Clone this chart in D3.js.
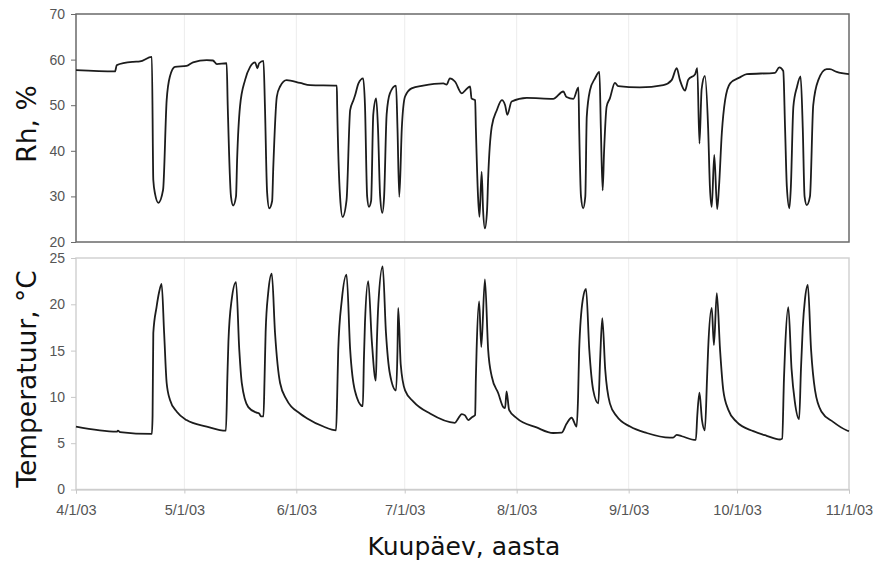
<!DOCTYPE html>
<html><head><meta charset="utf-8">
<script src="https://cdn.jsdelivr.net/npm/d3@7"></script>
<style>body{margin:0;background:#fff}svg{display:block}</style>
</head><body>
<svg id="c" width="874" height="564"></svg>
<script>
// ---- data (day offset from 2003-04-01, value) ----
const rhSeries = [
[0,57.7],[10.8,57.4],[11.3,58.8],[15.8,59.5],[17.7,59.6],[21.0,60.6],[21.4,33.6],[21.9,30.5],[22.8,28.6],[24.1,31.4],[25.1,51.1],[26.0,56.3],[27.4,58.4],[30.6,58.6],[32.4,59.4],[36.2,59.9],[37.9,59.8],[39.0,59.0],[41.7,59.2],
[42.0,50],[42.9,30],[43.5,28.0],[44.3,30],[44.6,38],[45.4,49.7],[46.8,55.5],[48.2,58.4],[49.6,59.4],[50.2,58.1],[50.7,59.2],[51.9,59.7],
[52.3,50],[52.9,31],[53.5,27.4],[54.3,29],[54.6,36],[55.6,51.9],[56.5,54.1],[58.3,55.5],[62.0,54.9],[64.8,54.4],[72.2,54.3],
[72.3,50],[73.1,30],[73.8,25.5],[74.9,29.2],[75.9,48.9],[76.8,51.1],[77.2,52],[78.2,54.8],[79.5,55.9],
[80.0,50],[80.6,30],[81.1,27.7],[81.7,29],[82.3,48],[83.1,51.5],[83.6,45],[84.2,30],[84.8,26.4],[85.3,30],[86.0,48],[86.9,52.6],[88.6,54.3],[89.0,45],[89.5,29.9],[90.2,45],[91.1,51.9],[92.9,53.7],[96.1,54.3],[101.7,54.8],[102.6,54.5],[103.5,55.9],[104.9,55.2],[106.8,52.6],[107.7,53.2],[109.1,54.1],[109.5,51.5],[110.5,51.1],
[110.7,45],[111.3,30],[111.7,25.5],[112.3,35.4],[112.7,27],[113.2,23.0],[113.8,27],[114.1,34],[115.1,45.3],[116.5,48.9],[117.9,51.1],[118.8,50.0],[119.4,47.9],[120.6,50.8],[124.8,51.6],[132.1,51.4],[134.9,53.0],[135.8,51.8],[137.7,51.4],[139.1,53.9],
[139.3,45],[139.8,30],[140.4,27.4],[141.0,30],[141.4,47.5],[142.3,53.3],[143.7,55.9],[144.9,57.3],
[145.3,45],[145.8,31.3],[146.2,40],[146.9,49.7],[147.8,51.5],[149.2,54.9],[150.1,54.2],[156.1,53.9],[162.6,54.4],[164.9,55.5],[166.3,58.1],[167.2,55.5],[168.6,53.2],[169.5,55.6],[171.4,56.8],[172.0,58.1],
[172.6,41.6],[173.2,53.5],[174.1,56.4],[175.0,45],[175.5,32],[176.0,27.7],[176.7,39.1],[177.5,27.2],[178.0,32],[178.8,44],[179.7,51.1],[181.1,54.8],[183.8,56.1],[185.7,56.8],[193.5,57.1],[194.7,58.3],[195.8,57.5],
[196.3,45],[196.8,32],[197.5,27.4],[197.9,32],[198.6,49.7],[199.6,54],[200.6,56.3],[201.2,45],[201.7,30],[202.3,28.1],[203.2,30.0],[204.1,50],[205.5,55.5],[207.8,57.9],[208.7,57.9],[210.6,57.3],[214.0,56.8]
];
const tempSeries = [
[0,6.78],[11.3,6.24],[11.6,6.35],[12.2,6.2],[21.0,6.0],[21.2,8],[21.4,16.9],[22.3,19.7],[23.0,21.3],[23.7,22.2],[24.4,16.9],[25.1,11.5],[26.0,9.7],[27.9,8.4],[30.6,7.5],[36.2,6.8],[41.5,6.35],
[41.9,12],[42.2,16],[43.1,20.5],[44.3,22.4],[45.2,15.1],[45.9,11.5],[47.7,8.9],[50.0,8.3],[50.7,8.2],[51.2,7.9],[51.9,7.9],
[52.2,12],[52.5,17],[53.2,21.2],[54.2,23.3],[55.1,16.9],[56.5,11.5],[58.3,9.7],[62.0,8.2],[63.9,7.7],[68.5,6.8],[72.0,6.4],
[72.3,10],[72.6,15.1],[73.6,20.5],[74.9,23.2],[75.9,15.1],[77.2,10.7],[79.4,9.0],
[79.7,14],[80.0,18],[80.9,22.5],[81.9,16],[83.0,11.75],
[83.3,16],[83.7,20],[84.9,24.1],[85.8,17],[86.9,12.5],[88.6,10.7],
[89.0,15],[89.2,19.6],[89.9,13.5],[91.1,10.7],[93.4,9.5],[98.0,8.2],[104.9,7.2],[105.7,7.6],[106.8,8.15],[107.7,8.0],[108.6,7.5],[109.6,7.8],[110.5,8.05],
[110.7,12],[110.9,15],[111.6,20.3],[112.2,15.4],[113.2,22.7],[114.1,15.1],[115.1,12.2],[116.9,10.4],[118.3,8.9],[118.8,8.8],[119.2,10.6],[119.9,8.6],[122.0,7.7],[127.5,6.7],[132.1,6.1],[134.5,6.15],[135.8,7.1],[137.2,7.75],[138.6,6.8],
[139.0,10],[139.3,15.1],[140.3,20.5],[141.2,21.65],[142.1,15.1],[143.2,10.7],[144.6,9.3],
[145.1,14],[145.7,18.5],[146.5,13],[147.8,9.3],[149.7,7.9],[153.4,6.8],[158.0,6.1],[164.4,5.6],[165.3,5.6],[166.3,5.9],[167.7,5.75],[171.6,5.35],
[172.0,8],[172.6,10.45],[173.3,7.5],[174.1,6.4],
[174.7,12],[175.0,15.1],[176.0,19.6],[176.6,15.6],[177.4,21.2],[178.3,15.1],[179.2,10.7],[180.6,8.6],[182.9,7.3],[187.5,6.3],[191.2,5.8],[194.9,5.4],[195.5,5.5],
[196.0,12],[196.3,15.1],[197.2,19.7],[198.1,13],[199.0,9.5],[200.2,7.6],
[200.7,13],[201.2,17.5],[201.8,20.5],[202.6,22.1],[203.5,15.1],[204.6,10.7],[206.4,8.4],[209.6,7.3],[213.3,6.4],[214.0,6.3]
];
const rhTicks = [20,30,40,50,60,70];
const tempTicks = [0,5,10,15,20,25];
const startDate = "2003-04-01";
const endDate = "2003-11-01";
const labels = {rh:"Rh, %", temp:"Temperatuur, °C", x:"Kuupäev, aasta"};

// ---- drawing ----
const svg = d3.select("#c");
const t0 = new Date(startDate + "T00:00:00Z");
const toDate = d => new Date(t0.getTime() + d * 86400000);
const x = d3.scaleUtc().domain([t0, new Date(endDate + "T00:00:00Z")]).range([76, 849]);
const yRh = d3.scaleLinear().domain([20, 70]).range([242, 14]);
const yT = d3.scaleLinear().domain([0, 25]).range([489.5, 258]);
const months = x.ticks(d3.utcMonth.every(1));
const tickFont = "'Liberation Sans', Arial, sans-serif";

function panel(y, ticks, series, frameColor, tickColor) {
  const [y0, y1] = y.range();
  svg.append("g").selectAll("line").data(months.slice(1, -1)).join("line")
    .attr("x1", d => x(d)).attr("x2", d => x(d))
    .attr("y1", y1).attr("y2", y0)
    .attr("stroke", "#ececec").attr("stroke-width", 1);
  svg.append("rect").attr("x", x.range()[0]).attr("y", y1)
    .attr("width", x.range()[1] - x.range()[0]).attr("height", y0 - y1)
    .attr("fill", "none").attr("stroke", frameColor).attr("stroke-width", 1.5);
  const ax = svg.append("g").attr("transform", `translate(${x.range()[0]},0)`)
    .call(d3.axisLeft(y).tickValues(ticks).tickSize(5).tickPadding(6));
  ax.select(".domain").remove();
  ax.selectAll("line").attr("stroke", tickColor);
  ax.selectAll("text").attr("font-family", tickFont).attr("font-size", 14).attr("fill", "#555");
  const line = d3.line().x(d => x(toDate(d[0]))).y(d => y(d[1])).curve(d3.curveMonotoneX);
  svg.append("path").datum(series).attr("d", line)
    .attr("fill", "none").attr("stroke", "#1c1c1c").attr("stroke-width", 1.8)
    .attr("stroke-linejoin", "round");
}

panel(yRh, rhTicks, rhSeries, "#6a6a6a", "#6a6a6a");
panel(yT, tempTicks, tempSeries, "#d2d2d2", "#c8c8c8");

const xa = svg.append("g").attr("transform", `translate(0,${yT.range()[0]})`)
  .call(d3.axisBottom(x).tickValues(months).tickSize(4).tickPadding(11.5)
    .tickFormat(d3.utcFormat("%-m/%-d/%y")));
xa.select(".domain").attr("stroke", "#c8c8c8");
xa.selectAll("line").attr("stroke", "#c8c8c8");
xa.selectAll("text").attr("font-family", tickFont).attr("font-size", 14.5).attr("fill", "#555");

const titleFont = "Verdana, 'DejaVu Sans', sans-serif";
svg.append("text").attr("transform", "translate(36,124) rotate(-90)")
  .attr("text-anchor", "middle").attr("font-family", titleFont).attr("font-size", 26.5)
  .attr("fill", "#111").text(labels.rh);
svg.append("text").attr("transform", "translate(36,379) rotate(-90)")
  .attr("text-anchor", "middle").attr("font-family", titleFont).attr("font-size", 26.5)
  .attr("fill", "#111").text(labels.temp);
svg.append("text").attr("x", 464).attr("y", 555)
  .attr("text-anchor", "middle").attr("font-family", titleFont).attr("font-size", 25)
  .attr("fill", "#111").text(labels.x);
</script>
</body></html>
